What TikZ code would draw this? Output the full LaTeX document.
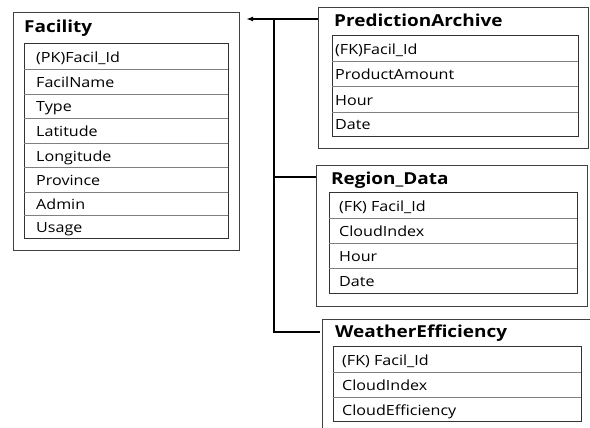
\documentclass[tikz,border=0pt]{standalone}
\usepackage{fontspec}
\setmainfont{Open Sans}[FakeStretch=1.15]
\usetikzlibrary{arrows.meta,calc}
\begin{document}
\begin{tikzpicture}[x=1pt,y=-1pt,
  outerbox/.style={draw=black!75,line width=1.1pt,rectangle,inner sep=0pt,anchor=north west},
  innerbox/.style={draw=black!80,line width=1.1pt,rectangle,inner sep=0pt,anchor=north west},
  sep/.style={draw=black!50,line width=0.8pt},
  title/.style={anchor=base west,inner sep=0pt,font=\fontsize{16.5}{18}\selectfont\bfseries},
  field/.style={anchor=base west,inner sep=0pt,font=\fontsize{14}{16}\selectfont},
  conn/.style={draw=black,line width=1.4pt},
  tip/.style={-{Latex[length=7pt,width=5pt]}}
]
\useasboundingbox (0,0) rectangle (590,428);

% ---------- Facility ----------
\node[outerbox,minimum width=226pt,minimum height=238pt] (fac) at (13,12) {};
\node[title] (factitle) at (24,33) {Facility};
\node[innerbox,minimum width=204pt,minimum height=195pt] (facT) at (24,43) {};
\foreach \y in {69,94,118,143,167,192,215} \draw[sep] (24,\y) -- (228,\y);
\node[field] (f1) at (36,62.5) {(PK)Facil\_Id};
\node[field] (f2) at (36,87.5) {FacilName};
\node[field] (f3) at (36,112) {Type};
\node[field] (f4) at (36,136.5) {Latitude};
\node[field] (f5) at (36,161) {Longitude};
\node[field] (f6) at (36,185.5) {Province};
\node[field] (f7) at (36,209.5) {Admin};
\node[field] (f8) at (36,232) {Usage};

% ---------- PredictionArchive ----------
\node[outerbox,minimum width=270pt,minimum height=141pt] (pa) at (318,7) {};
\node[title] (patitle) at (334,27) {PredictionArchive};
\node[innerbox,minimum width=246pt,minimum height=101pt] (paT) at (332,35) {};
\foreach \y in {61,86,112} \draw[sep] (332,\y) -- (578,\y);
\node[field] (p1) at (335,54.5) {(FK)Facil\_Id};
\node[field] (p2) at (335,80) {ProductAmount};
\node[field] (p3) at (335,105.5) {Hour};
\node[field] (p4) at (335,130) {Date};

% ---------- Region_Data ----------
\node[outerbox,minimum width=271pt,minimum height=141pt] (rd) at (316,165) {};
\node[title] (rdtitle) at (331,184) {Region\_Data};
\node[innerbox,minimum width=248pt,minimum height=101pt] (rdT) at (329,192) {};
\foreach \y in {218,243,268} \draw[sep] (329,\y) -- (577,\y);
\node[field] (r1) at (339,211.5) {(FK) Facil\_Id};
\node[field] (r2) at (339,236.5) {CloudIndex};
\node[field] (r3) at (339,261.5) {Hour};
\node[field] (r4) at (339,286.5) {Date};

% ---------- WeatherEfficiency ----------
\begin{scope}
\clip (0,0) rectangle (590,428);
\node[outerbox,minimum width=270pt,minimum height=130pt] (we) at (322,319) {};
\end{scope}
\node[title] (wetitle) at (335,337) {WeatherEfficiency};
\node[innerbox,minimum width=248pt,minimum height=75pt] (weT) at (333,346) {};
\foreach \y in {372,397} \draw[sep] (333,\y) -- (581,\y);
\node[field] (w1) at (342,365.5) {(FK) Facil\_Id};
\node[field] (w2) at (342,390.5) {CloudIndex};
\node[field] (w3) at (342,415) {CloudEfficiency};

% ---------- connectors ----------
\coordinate (paIn) at ($(pa.north west)+(0,12)$);
\coordinate (facIn) at ($(fac.north east)+(6,7)$);
\coordinate (trunkTop) at (274,19);
\coordinate (trunkMid) at (274,177);
\coordinate (trunkBot) at (274,332);
\coordinate (rdIn) at ($(rd.north west)+(0,12)$);
\coordinate (weIn) at ($(we.north west)+(-2,13)$);
\draw[conn,tip] (paIn) -- (facIn);
\draw[conn] (trunkTop) -- (trunkBot) -- (weIn);
\draw[conn] (trunkMid) -- (rdIn);
\end{tikzpicture}
\end{document}
